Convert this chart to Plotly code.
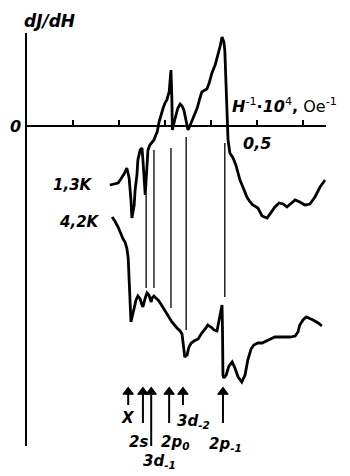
import plotly.graph_objects as go

# ---- data (H^-1 * 10^4, Oe^-1  vs  dJ/dH in arbitrary units) ----
h_13K = [0.180, 0.189, 0.198, 0.204, 0.211, 0.217, 0.222, 0.226, 0.228, 0.233, 0.235, 0.239, 0.241,
         0.246, 0.250, 0.252, 0.254, 0.257, 0.259, 0.261, 0.263, 0.267, 0.272, 0.276, 0.280, 0.283,
         0.287, 0.291, 0.296, 0.300, 0.304, 0.309, 0.311, 0.313, 0.315, 0.316, 0.320, 0.324, 0.328,
         0.333, 0.337, 0.341, 0.346, 0.350, 0.354, 0.359, 0.365, 0.370, 0.376, 0.380, 0.387, 0.391,
         0.396, 0.402, 0.409, 0.415, 0.420, 0.424, 0.428, 0.430, 0.433, 0.435, 0.437, 0.441, 0.448,
         0.454, 0.463, 0.472, 0.478, 0.485, 0.491, 0.502, 0.511, 0.522, 0.530, 0.539, 0.548, 0.557,
         0.565, 0.574, 0.583, 0.593, 0.604, 0.615, 0.626, 0.637, 0.648]
s_13K = [-5.9, -5.8, -5.7, -5.3, -4.8, -4.2, -5.2, -7.4, -9.2, -7.9, -6.4, -4.9, -3.4,
         -2.4, -2.2, -3.4, -4.9, -6.9, -5.4, -3.4, -2.4, -1.9, -1.6, -1.4, -0.9, -0.6,
         0.4, 1.1, 1.8, 2.3, 2.6, 3.4, 4.6, 5.6, 2.6, -0.4, 0.4, 1.2, 1.8,
         2.2, 2.0, 1.6, 0.4, -0.4, 0.0, 0.6, 1.2, 1.8, 2.8, 3.4, 3.6, 3.7,
         4.3, 5.3, 6.1, 7.1, 8.0, 8.9, 8.4, 7.6, 3.6, 0.1, -1.4, -2.7, -3.2,
         -3.9, -5.4, -6.4, -7.1, -7.6, -7.9, -8.2, -9.0, -9.2, -8.7, -8.1, -7.7, -7.8,
         -8.1, -7.7, -7.4, -7.6, -7.9, -7.8, -7.1, -6.1, -5.4]

h_42K = [0.185, 0.191, 0.198, 0.204, 0.209, 0.213, 0.217, 0.220, 0.222, 0.224, 0.226, 0.228, 0.233,
         0.237, 0.241, 0.246, 0.250, 0.252, 0.257, 0.261, 0.265, 0.270, 0.272, 0.276, 0.280, 0.285,
         0.291, 0.298, 0.307, 0.315, 0.326, 0.333, 0.337, 0.341, 0.343, 0.348, 0.352, 0.357, 0.363,
         0.372, 0.380, 0.389, 0.393, 0.400, 0.407, 0.413, 0.417, 0.420, 0.422, 0.424, 0.425, 0.426,
         0.428, 0.433, 0.439, 0.446, 0.452, 0.459, 0.467, 0.474, 0.480, 0.487, 0.493, 0.502, 0.511,
         0.520, 0.528, 0.539, 0.550, 0.561, 0.572, 0.583, 0.589, 0.593, 0.600, 0.607, 0.613, 0.622,
         0.633, 0.641]
s_42K = [-9.1, -9.5, -10.1, -10.8, -11.3, -11.6, -12.2, -13.2, -15.4, -17.9, -19.6, -19.2, -18.2,
         -17.4, -17.0, -17.3, -17.9, -18.1, -17.2, -16.7, -16.9, -17.6, -17.2, -17.0, -17.2, -17.4,
         -17.8, -18.3, -19.0, -19.6, -20.2, -20.5, -20.8, -22.2, -23.1, -22.9, -22.1, -21.7, -21.5,
         -21.3, -20.7, -20.2, -19.9, -20.1, -20.4, -20.5, -19.6, -18.9, -18.2, -17.9, -20.4, -24.9,
         -25.2, -24.9, -24.0, -23.6, -24.2, -25.1, -25.6, -24.9, -23.4, -22.3, -21.9, -21.7, -21.7,
         -21.5, -21.3, -21.1, -21.1, -21.1, -21.1, -21.0, -20.6, -19.9, -19.4, -19.1, -19.2, -19.4,
         -19.7, -20.0]

# connecting vertical lines between the two records
link_h = [0.259, 0.276, 0.313, 0.346, 0.430]
link_top = [-6.9, -2.4, -2.2, -1.1, -1.7]
link_bottom = [-16.2, -16.2, -18.2, -20.4, -17.1]

# transition markers (arrows)
line_names = ["X", "2<i>s</i>", "3<i>d</i><sub>-1</sub>", "2<i>p</i><sub>0</sub>",
              "3<i>d</i><sub>-2</sub>", "2<i>p</i><sub>-1</sub>"]
arrow_h = [0.220, 0.252, 0.270, 0.309, 0.339, 0.426]
arrow_tip = [-26.1] * 6
arrow_tail = [-27.9, -29.7, -32.4, -29.7, -27.9, -29.7]
label_h = [0.220, 0.243, 0.287, 0.322, 0.361, 0.432]
label_y = [-29.2, -31.6, -33.5, -31.6, -29.5, -31.8]

tick_vals = [0.1, 0.2, 0.3, 0.4, 0.5, 0.6]

X_RANGE = [0, 0.65]
Y_RANGE = [-32.0, 9.3]
FONT = "DejaVu Sans"


def py(v):
    """data y -> paper y (for texts lying outside the y range)"""
    return (v - Y_RANGE[0]) / (Y_RANGE[1] - Y_RANGE[0])


def px(v):
    return (v - X_RANGE[0]) / (X_RANGE[1] - X_RANGE[0])


def tx(s):
    return "<b><i>" + s + "</i></b>"


fig = go.Figure()
fig.add_trace(go.Scatter(x=h_13K, y=s_13K, mode="lines",
                         line=dict(color="black", width=2.8), showlegend=False))
fig.add_trace(go.Scatter(x=h_42K, y=s_42K, mode="lines",
                         line=dict(color="black", width=2.8), showlegend=False))

lx, ly = [], []
for h, a, b in zip(link_h, link_top, link_bottom):
    lx += [h, h, None]
    ly += [a, b, None]
fig.add_trace(go.Scatter(x=lx, y=ly, mode="lines",
                         line=dict(color="black", width=1.3), showlegend=False))

# arrows: shafts + heads
ax_, ay_ = [], []
for h, tip, tail in zip(arrow_h, arrow_tip, arrow_tail):
    ax_ += [h, h, None]
    ay_ += [tip - 0.6, tail, None]
fig.add_trace(go.Scatter(x=ax_, y=ay_, mode="lines", line=dict(color="black", width=2),
                         showlegend=False, cliponaxis=False))
fig.add_trace(go.Scatter(x=arrow_h, y=[t - 0.5 for t in arrow_tip], mode="markers",
                         marker=dict(symbol="triangle-up-dot", size=[9] * 6, color="black",
                                     opacity=1, line=dict(width=1.2, color="black")),
                         showlegend=False, cliponaxis=False))

ann = []
for h, y, t in zip(label_h, label_y, line_names):
    ann.append(dict(x=h, y=py(y), xref="x", yref="paper", text=tx(t), xanchor="center",
                    yanchor="middle", showarrow=False,
                    font=dict(family=FONT, size=15, color="black")))

ann += [
    dict(x=0.048, y=py(10.5), xref="x", yref="paper", text=tx("dJ/dH"), showarrow=False,
         xanchor="center", yanchor="middle", font=dict(family=FONT, size=17, color="black")),
    dict(x=px(-0.026), y=0, xref="paper", yref="y", text=tx("0"), showarrow=False,
         xanchor="center", yanchor="middle", font=dict(family=FONT, size=16, color="black")),
    dict(x=0.5, y=-1.7, xref="x", yref="y", text=tx("0,5"), showarrow=False,
         xanchor="center", yanchor="middle", font=dict(family=FONT, size=16, color="black")),
    dict(x=0.441, y=2.1, xref="x", yref="y", xanchor="left", yanchor="middle",
         text="<b><i>H</i></b><sup>-1</sup><b>·<i>10</i></b><sup>4</sup><b>,</b> Oe<sup>-1</sup>",
         showarrow=False, font=dict(family=FONT, size=16, color="black")),
    dict(x=0.148, y=-5.9, xref="x", yref="y", xanchor="right", yanchor="middle",
         text=tx("1,3K"), showarrow=False, font=dict(family=FONT, size=15, color="black")),
    dict(x=0.163, y=-9.6, xref="x", yref="y", xanchor="right", yanchor="middle",
         text=tx("4,2K"), showarrow=False, font=dict(family=FONT, size=15, color="black")),
]

fig.update_layout(
    width=350, height=476,
    margin=dict(l=27, r=24, t=33, b=30, autoexpand=False),
    paper_bgcolor="white", plot_bgcolor="white",
    annotations=ann,
    xaxis=dict(range=X_RANGE, showgrid=False, zeroline=False, showline=True,
               linecolor="black", linewidth=2, anchor="free", position=py(0),
               tickvals=tick_vals, ticks="inside", ticklen=5, tickwidth=1.5,
               tickcolor="black", showticklabels=False, automargin=False),
    yaxis=dict(range=Y_RANGE, showgrid=False, zeroline=False, showline=True,
               linecolor="black", linewidth=2, ticks="", showticklabels=False,
               automargin=False),
)

fig.write_html("out.html", config={"displayModeBar": False},
               post_script="document.body.style.margin='0';document.body.style.overflow='hidden';")
